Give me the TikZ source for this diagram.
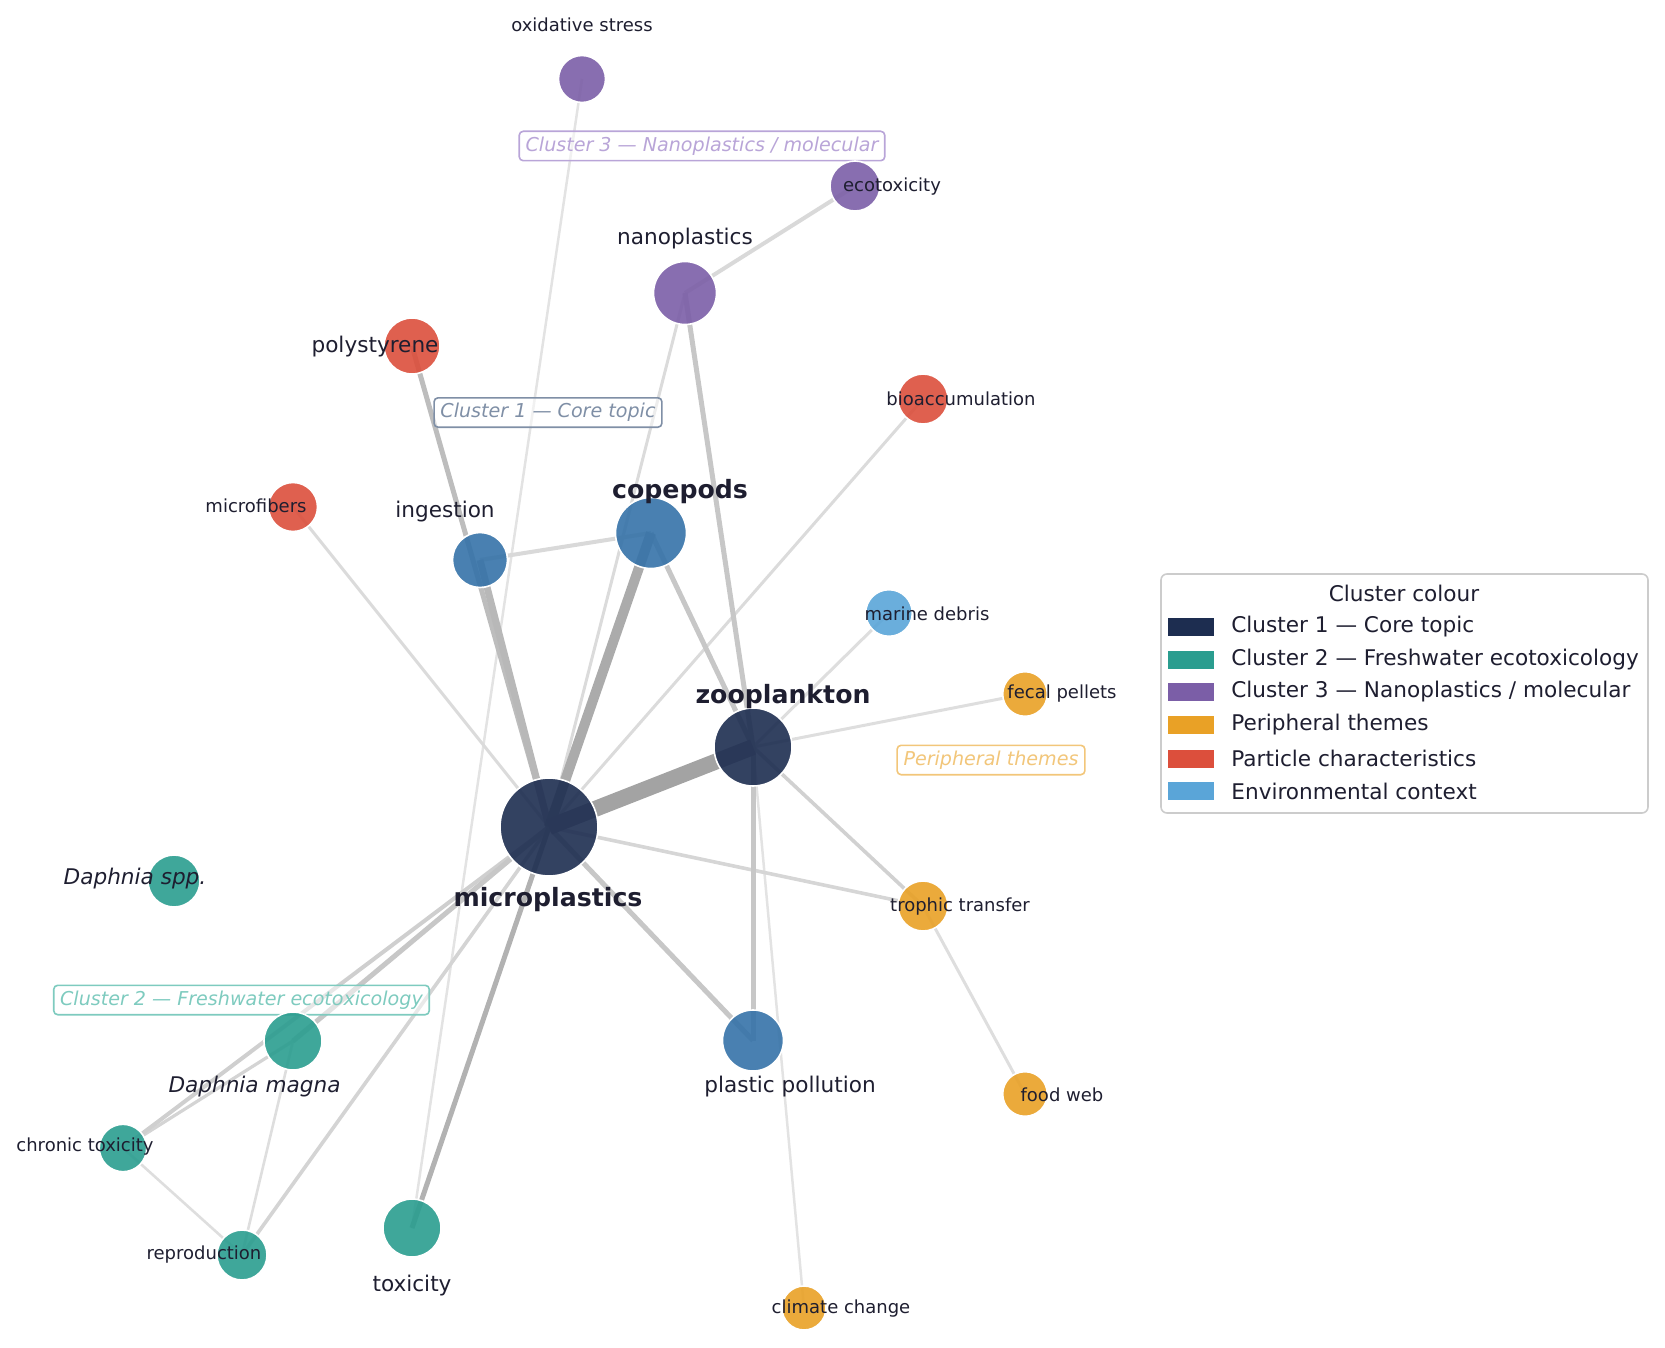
\documentclass[tikz,border=0pt]{standalone}
\usepackage{fontspec}
\setmainfont{DejaVu Sans}
\definecolor{cone}{HTML}{1D2D50}
\definecolor{ctwo}{HTML}{2A9D8F}
\definecolor{cthree}{HTML}{7B5EA7}
\definecolor{cperi}{HTML}{E9A126}
\definecolor{cpart}{HTML}{DC4F3C}
\definecolor{cenv}{HTML}{5AA5D8}
\definecolor{cmid}{HTML}{3572A8}
\definecolor{txt}{HTML}{1E1E30}
\definecolor{aone}{HTML}{7F8FA6}
\definecolor{atwo}{HTML}{7ECBBF}
\definecolor{athree}{HTML}{B9A5D8}
\definecolor{aperi}{HTML}{F2C67A}
\begin{document}
\begin{tikzpicture}[x=0.5pt,y=-0.5pt,
  vtx/.style={circle, inner sep=0pt, draw=white, line width=0.8pt, fill opacity=0.9, draw opacity=1},
  lblS/.style={text=txt, inner sep=0pt, font=\fontsize{9}{10}\selectfont},
  lblM/.style={text=txt, inner sep=0pt, font=\fontsize{10.8}{12}\selectfont},
  lblI/.style={text=txt, inner sep=0pt, font=\fontsize{10.8}{12}\selectfont\itshape},
  lblB/.style={text=txt, inner sep=0pt, font=\fontsize{12.6}{14}\selectfont\bfseries},
  annot/.style={draw=#1, text=#1, line width=0.8pt, rounded corners=2pt, fill=white, fill opacity=0.5, text opacity=1, draw opacity=1,
    inner xsep=3.2pt, inner ysep=2.8pt, text height=7.2pt, text depth=1.9pt, font=\fontsize{9.55}{10}\selectfont\itshape},
  lnk/.style 2 args={line width=#1, draw=#2},
  swatch/.style={fill=#1, draw=none},
  legtxt/.style={text=txt, anchor=west, inner sep=0pt, font=\fontsize{10.8}{12}\selectfont}
]
\useasboundingbox (0,0) rectangle (1665,1348);

% ---------------- node positions ----------------
\coordinate (mp) at (549,827);
\coordinate (zoo) at (753,747);
\coordinate (cope) at (651,533);
\coordinate (ing) at (480,560);
\coordinate (pp) at (753,1040.5);
\coordinate (nano) at (685,293);
\coordinate (eco) at (855,186);
\coordinate (oxs) at (582,79);
\coordinate (poly) at (412,346);
\coordinate (mfib) at (293,507);
\coordinate (bio) at (923,399);
\coordinate (mar) at (889,613);
\coordinate (fec) at (1025,694);
\coordinate (troph) at (923,906);
\coordinate (fw) at (1025,1094);
\coordinate (clim) at (804,1308);
\coordinate (dsp) at (174,881);
\coordinate (dm) at (293,1041);
\coordinate (chr) at (123,1148);
\coordinate (rep) at (242,1255);
\coordinate (tox) at (412,1228);

% ---------------- edges ----------------
\draw[lnk={1.25pt}{black!11}] (oxs) -- (tox);
\draw[lnk={1.25pt}{black!11}] (zoo) -- (clim);
\draw[lnk={1.5pt}{black!14}] (mp) -- (mfib);
\draw[lnk={1.5pt}{black!14}] (mp) -- (bio);
\draw[lnk={1.5pt}{black!14}] (mp) -- (nano);
\draw[lnk={1.5pt}{black!13}] (zoo) -- (mar);
\draw[lnk={1.5pt}{black!13}] (zoo) -- (fec);
\draw[lnk={1.5pt}{black!13}] (troph) -- (fw);
\draw[lnk={1.3pt}{black!13}] (dm) -- (rep);
\draw[lnk={1.3pt}{black!13}] (chr) -- (rep);
\draw[lnk={2pt}{black!15}] (nano) -- (eco);
\draw[lnk={2pt}{black!15}] (ing) -- (cope);
\draw[lnk={1.8pt}{black!16}] (mp) -- (troph);
\draw[lnk={1.8pt}{black!18}] (zoo) -- (troph);
\draw[lnk={1.8pt}{black!17}] (mp) -- (rep);
\draw[lnk={1.6pt}{black!17}] (dm) -- (chr);
\draw[lnk={2pt}{black!19}] (mp) -- (chr);
\draw[lnk={2.5pt}{black!22}] (mp) -- (dm);
\draw[lnk={2.5pt}{black!22}] (zoo) -- (pp);
\draw[lnk={2.5pt}{black!22}] (mp) -- (pp);
\draw[lnk={2.5pt}{black!22}] (cope) -- (zoo);
\draw[lnk={2.5pt}{black!22}] (nano) -- (zoo);
\draw[lnk={2.5pt}{black!26}] (mp) -- (poly);
\draw[lnk={2.5pt}{black!30}] (mp) -- (tox);
\draw[lnk={3.5pt}{black!28}] (mp) -- (ing);
\draw[lnk={5pt}{black!33}] (mp) -- (cope);
\draw[lnk={8pt}{black!36}] (mp) -- (zoo);

% ---------------- annotation boxes ----------------
\node[annot=aone] (c1box) at (548,412.5) {Cluster 1 — Core topic};
\node[annot=atwo] (c2box) at (241.5,1000) {Cluster 2 — Freshwater ecotoxicology};
\node[annot=athree] (c3box) at (702,146) {Cluster 3 — Nanoplastics / molecular};
\node[annot=aperi] (perbox) at (991,760) {Peripheral themes};

% ---------------- node circles ----------------
\node[vtx, fill=cone, minimum size=49pt] (n-mp) at (mp) {};
\node[vtx, fill=cone, minimum size=39pt] (n-zoo) at (zoo) {};
\node[vtx, fill=cmid, minimum size=35.5pt] (n-cope) at (cope) {};
\node[vtx, fill=cmid, minimum size=27.5pt] (n-ing) at (ing) {};
\node[vtx, fill=cmid, minimum size=30.5pt] (n-pp) at (pp) {};
\node[vtx, fill=cthree, minimum size=31.5pt] (n-nano) at (nano) {};
\node[vtx, fill=cthree, minimum size=25pt] (n-eco) at (eco) {};
\node[vtx, fill=cthree, minimum size=23.5pt] (n-oxs) at (oxs) {};
\node[vtx, fill=cpart, minimum size=28pt] (n-poly) at (poly) {};
\node[vtx, fill=cpart, minimum size=24.5pt] (n-mfib) at (mfib) {};
\node[vtx, fill=cpart, minimum size=25pt] (n-bio) at (bio) {};
\node[vtx, fill=cenv, minimum size=23.3pt] (n-mar) at (mar) {};
\node[vtx, fill=cperi, minimum size=22.3pt] (n-fec) at (fec) {};
\node[vtx, fill=cperi, minimum size=25pt] (n-troph) at (troph) {};
\node[vtx, fill=cperi, minimum size=22.3pt] (n-fw) at (fw) {};
\node[vtx, fill=cperi, minimum size=22pt] (n-clim) at (clim) {};
\node[vtx, fill=ctwo, minimum size=26pt] (n-dsp) at (dsp) {};
\node[vtx, fill=ctwo, minimum size=29pt] (n-dm) at (dm) {};
\node[vtx, fill=ctwo, minimum size=23.7pt] (n-chr) at (chr) {};
\node[vtx, fill=ctwo, minimum size=25pt] (n-rep) at (rep) {};
\node[vtx, fill=ctwo, minimum size=29pt] (n-tox) at (tox) {};

% ---------------- labels ----------------
\node[lblS] (l-oxs) at (582,25) {oxidative stress};
\node[lblS] (l-eco) at (892,187) {ecotoxicity};
\node[lblM] (l-nano) at (685,239) {nanoplastics};
\node[lblM] (l-poly) at (375,347) {polystyrene};
\node[lblS] (l-bio) at (961,399) {bioaccumulation};
\node[lblS] (l-mfib) at (256,506) {microfibers};
\node[lblM] (l-ing) at (445,512) {ingestion};
\node[lblB] (l-cope) at (680,492) {copepods};
\node[lblS] (l-mar) at (927,614) {marine debris};
\node[lblS] (l-fec) at (1062,694) {fecal pellets};
\node[lblB] (l-zoo) at (783,697) {zooplankton};
\node[lblB] (l-mp) at (548,900) {microplastics};
\node[lblI] (l-dsp) at (135,879) {Daphnia spp.};
\node[lblS] (l-troph) at (960,907) {trophic transfer};
\node[lblI] (l-dm) at (254.5,1087) {Daphnia magna};
\node[lblM] (l-pp) at (790,1087) {plastic pollution};
\node[lblS] (l-fw) at (1062,1095) {food web};
\node[lblS] (l-chr) at (85,1147) {chronic toxicity};
\node[lblS] (l-rep) at (204,1255) {reproduction};
\node[lblM] (l-tox) at (412,1286) {toxicity};
\node[lblS] (l-clim) at (841,1309) {climate change};

% ---------------- legend ----------------
\draw[draw=black!20, line width=0.8pt, rounded corners=3pt, fill=white] (1161,574) rectangle (1648,813);
\node[text=txt, inner sep=0pt, font=\fontsize{10.8}{12}\selectfont] (legtitle) at (1404,593) {Cluster colour};
\fill[swatch=cone] (1168,618) rectangle (1214,636);
\node[legtxt] (leg1) at (1231,627) {Cluster 1 — Core topic};
\fill[swatch=ctwo] (1168,650.5) rectangle (1214,668.5);
\node[legtxt] (leg2) at (1231,659.5) {Cluster 2 — Freshwater ecotoxicology};
\fill[swatch=cthree] (1168,683) rectangle (1214,701);
\node[legtxt] (leg3) at (1231,692) {Cluster 3 — Nanoplastics / molecular};
\fill[swatch=cperi] (1168,716) rectangle (1214,734);
\node[legtxt] (leg4) at (1231,725) {Peripheral themes};
\fill[swatch=cpart] (1168,749.5) rectangle (1214,767.5);
\node[legtxt] (leg5) at (1231,758.5) {Particle characteristics};
\fill[swatch=cenv] (1168,782) rectangle (1214,800);
\node[legtxt] (leg6) at (1231,791) {Environmental context};
\end{tikzpicture}
\end{document}
